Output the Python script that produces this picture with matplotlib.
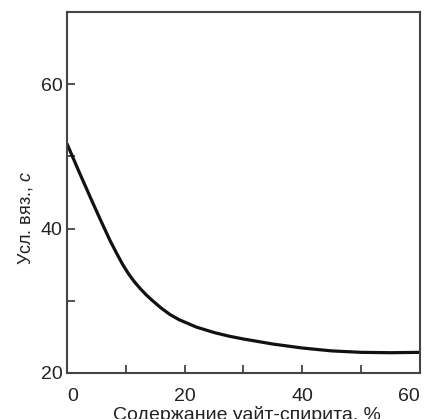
import matplotlib
matplotlib.use('Agg')

import matplotlib.pyplot as plt

plt.rcParams['font.family'] = 'Liberation Sans'
plt.rcParams['font.size'] = 13
plt.rcParams['mathtext.fontset'] = 'custom'
plt.rcParams['mathtext.it'] = 'Liberation Sans:italic'
plt.rcParams['mathtext.rm'] = 'Liberation Sans'

# white spirit content (%) vs conditional viscosity (s)
spirit = [0, 2, 4, 5.6, 7.3, 8.5, 9.5, 10.5, 11.5, 12.5, 13.5, 14.5, 16,
          17.5, 19, 22, 25, 27.5, 30, 35, 40, 45, 50, 55, 60]
viscosity = [51.8, 48.0, 44.3, 41.4, 38.4, 36.5, 35.0, 33.7, 32.6, 31.65,
             30.8, 30.05, 29.0, 28.1, 27.4, 26.35, 25.6, 25.1, 24.7, 24.0,
             23.45, 23.05, 22.85, 22.8, 22.85]

xticks = [0, 10, 20, 30, 40, 50, 60]
xlabels = ['0', '', '20', '', '40', '', '60']
yticks = [20, 30, 40, 50, 60]
ylabels = ['20', '', '40', '', '60']

fig = plt.figure(figsize=(4.26, 4.19), dpi=100)
ax = fig.add_axes([0.157, 0.110, 0.829, 0.861])

ax.plot(spirit, viscosity, color='#111111', lw=2.3,
        solid_capstyle='butt', solid_joinstyle='round')

ax.set_xlim(0, 60)
ax.set_ylim(20, 70)
ax.set_xticks(xticks)
ax.set_xticklabels(xlabels)
ax.set_yticks(yticks)
ax.set_yticklabels(ylabels)
ax.tick_params(direction='in', length=6, width=1.2, color='#333333',
               labelsize=14, labelcolor='#222222')
ax.tick_params(axis='x', pad=11)
ax.tick_params(axis='y', pad=3)

# keep the end labels inside the frame
xt = ax.get_xticklabels()
xt[0].set_horizontalalignment('left')
xt[-1].set_horizontalalignment('right')

for s in ax.spines.values():
    s.set_linewidth(1.5)
    s.set_color('#444444')

ax.set_xlabel('Содержание уайт-спирита, %', fontsize=14, color='#222222')
ax.xaxis.set_label_coords(0.51, -0.091, transform=ax.transAxes)
ax.xaxis.label.set_va('top')
ax.set_ylabel('Усл. вяз., $\\mathit{с}$', fontsize=13, color='#222222')
ax.yaxis.set_label_coords(-0.117, 0.43)
ax.yaxis.label.set_va('center')

fig.savefig('out.png', dpi=100)
